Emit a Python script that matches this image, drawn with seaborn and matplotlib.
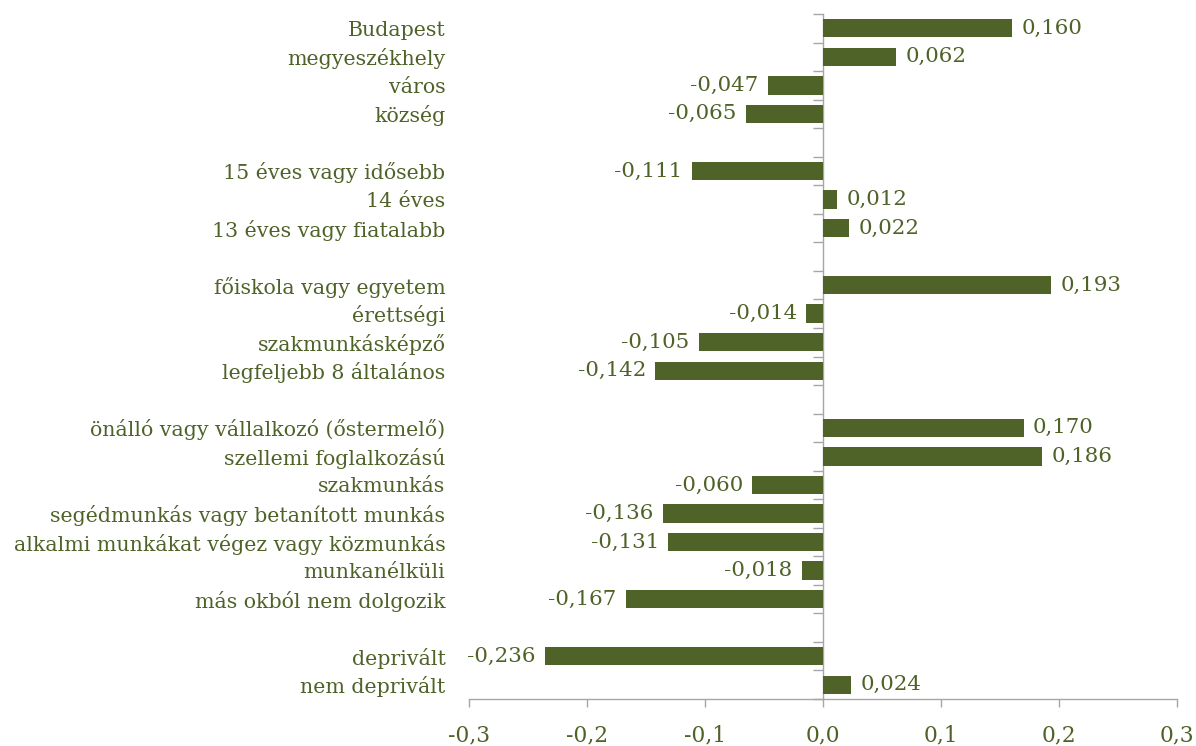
import numpy as np
import pandas as pd
import matplotlib
matplotlib.use("Agg")
import matplotlib.pyplot as plt
import seaborn as sns

# Categories (blank rows separate the groups) and their values
categories = [
    "Budapest", "megyeszékhely", "város", "község",
    " ",
    "15 éves vagy idősebb", "14 éves", "13 éves vagy fiatalabb",
    "  ",
    "főiskola vagy egyetem", "érettségi", "szakmunkásképző", "legfeljebb 8 általános",
    "   ",
    "önálló vagy vállalkozó (őstermelő)", "szellemi foglalkozású", "szakmunkás",
    "segédmunkás vagy betanított munkás", "alkalmi munkákat végez vagy közmunkás",
    "munkanélküli", "más okból nem dolgozik",
    "    ",
    "deprivált", "nem deprivált",
]
values = [
    0.160, 0.062, -0.047, -0.065,
    np.nan,
    -0.111, 0.012, 0.022,
    np.nan,
    0.193, -0.014, -0.105, -0.142,
    np.nan,
    0.170, 0.186, -0.060, -0.136, -0.131, -0.018, -0.167,
    np.nan,
    -0.236, 0.024,
]
x_ticks = [-0.3, -0.2, -0.1, 0.0, 0.1, 0.2, 0.3]

GREEN = "#4F6228"
GREY = "#A6A6A6"

sns.set_theme(style="white")
plt.rcParams["font.family"] = ["DejaVu Serif"]

df = pd.DataFrame({"cat": categories, "val": values})

fig = plt.figure(figsize=(11.96, 7.46), dpi=100)
ax = fig.add_axes([469 / 1196, 1 - 699 / 746, (1177 - 469) / 1196, (699 - 14) / 746])

sns.barplot(data=df, x="val", y="cat", order=categories, orient="h",
            color=GREEN, saturation=1, width=0.645, linewidth=0, ax=ax)

ax.set_xlim(-0.3, 0.3)
ax.set_ylim(len(categories) - 0.5, -0.5)
ax.set_xlabel("")
ax.set_ylabel("")

# x axis: grey line with outward ticks, comma decimals
ax.set_xticks(x_ticks)
ax.set_xticklabels([f"{t:.1f}".replace(".", ",") for t in x_ticks])
ax.tick_params(axis="x", direction="out", length=6, width=1, color=GREY,
               labelsize=15.7, labelcolor=GREEN, pad=12, bottom=True)
for side in ("top", "right", "left"):
    ax.spines[side].set_visible(False)
ax.spines["bottom"].set_color(GREY)
ax.spines["bottom"].set_linewidth(1)

# category labels on the left side of the plot area
ax.tick_params(axis="y", length=0, labelsize=14.8, labelcolor=GREEN, pad=17)

# zero axis with ticks between categories
zero_ax = ax.secondary_yaxis(0, transform=ax.transData)
zero_ax.set_yticks(np.arange(-0.5, len(categories) + 0.5, 1.0))
zero_ax.set_yticklabels([])
zero_ax.tick_params(axis="y", direction="out", length=7, width=1, color=GREY)
zero_ax.spines["left"].set_color(GREY)
zero_ax.spines["left"].set_linewidth(1)

# value labels
for i, v in enumerate(values):
    if np.isnan(v):
        continue
    label = f"{v:.3f}".replace(".", ",")
    off = 0.008 if v >= 0 else -0.008
    ax.text(v + off, i, label, va="center", ha="left" if v >= 0 else "right",
            color=GREEN, fontsize=15.4)

fig.savefig("out.png", dpi=100)
